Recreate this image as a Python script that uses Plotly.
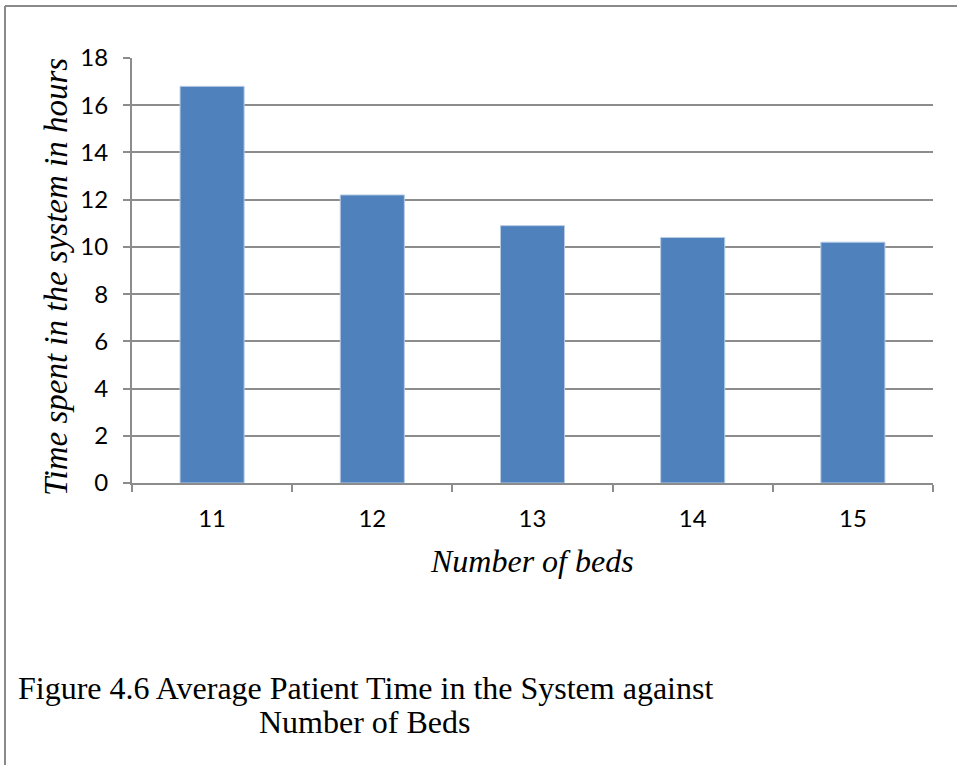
import plotly.graph_objects as go

# Average time each patient spends in the system, by number of beds
beds = ["11", "12", "13", "14", "15"]
hours = [16.8, 12.2, 10.9, 10.4, 10.2]

y_ticks = [0, 2, 4, 6, 8, 10, 12, 14, 16, 18]

W, H = 957, 765
L, R, T, B = 132, 24, 58, 282
PW, PH = W - L - R, H - T - B


def px(x):
    return (x - L) / PW


def py(y):
    return (H - B - y) / PH


GRID = "#8c8c8c"
BAR = "#4f81bd"
SERIF = "Liberation Serif"
SANS = "Lato"

fig = go.Figure(
    go.Bar(
        x=beds,
        y=hours,
        marker=dict(color=BAR, line=dict(color="#b8cce4", width=1)),
        showlegend=False,
    )
)

fig.update_layout(
    width=W,
    height=H,
    margin=dict(l=L, r=R, t=T, b=B, pad=0),
    paper_bgcolor="white",
    plot_bgcolor="white",
    bargap=0.6,
    xaxis=dict(
        type="category",
        tickson="boundaries",
        ticks="outside",
        ticklen=7,
        tickwidth=2,
        tickcolor=GRID,
        showline=True,
        linecolor=GRID,
        linewidth=2,
        showgrid=False,
        tickfont=dict(family=SANS, size=24, color="black"),
        ticklabelstandoff=13,
    ),
    yaxis=dict(
        range=[0, 18],
        tickvals=y_ticks,
        ticks="outside",
        ticklen=7,
        tickwidth=2,
        tickcolor=GRID,
        showline=True,
        linecolor=GRID,
        linewidth=2,
        showgrid=True,
        gridcolor=GRID,
        gridwidth=2,
        zeroline=False,
        tickfont=dict(family=SANS, size=24, color="black"),
        ticklabelstandoff=10,
    ),
    font=dict(family=SERIF, color="black"),
)

# Page frame lines (top and left)
fig.add_shape(type="line", xref="paper", yref="paper",
              x0=px(5), x1=px(W + 5), y0=py(6), y1=py(6),
              line=dict(color="#8a8a8a", width=2))
fig.add_shape(type="line", xref="paper", yref="paper",
              x0=px(5), x1=px(5), y0=py(6), y1=py(H + 5),
              line=dict(color="#8a8a8a", width=2))

# Axis titles
fig.add_annotation(xref="paper", yref="paper", x=px(532), y=py(561),
                   text="<i>Number of beds</i>", showarrow=False,
                   xanchor="center", yanchor="middle",
                   font=dict(family=SERIF, size=32, color="black"))
fig.add_annotation(xref="paper", yref="paper", x=px(56), y=py(277),
                   text="<i>Time spent in the system in hours</i>", showarrow=False,
                   textangle=-90, xanchor="center", yanchor="middle",
                   font=dict(family=SERIF, size=33, color="black"))

# Figure caption
fig.add_annotation(xref="paper", yref="paper", x=px(365), y=py(688),
                   text="Figure 4.6 Average Patient Time in the System against",
                   showarrow=False, xanchor="center", yanchor="middle",
                   font=dict(family=SERIF, size=32, color="black"))
fig.add_annotation(xref="paper", yref="paper", x=px(365), y=py(722),
                   text="Number of Beds",
                   showarrow=False, xanchor="center", yanchor="middle",
                   font=dict(family=SERIF, size=32, color="black"))

fig.write_html("out.html")
